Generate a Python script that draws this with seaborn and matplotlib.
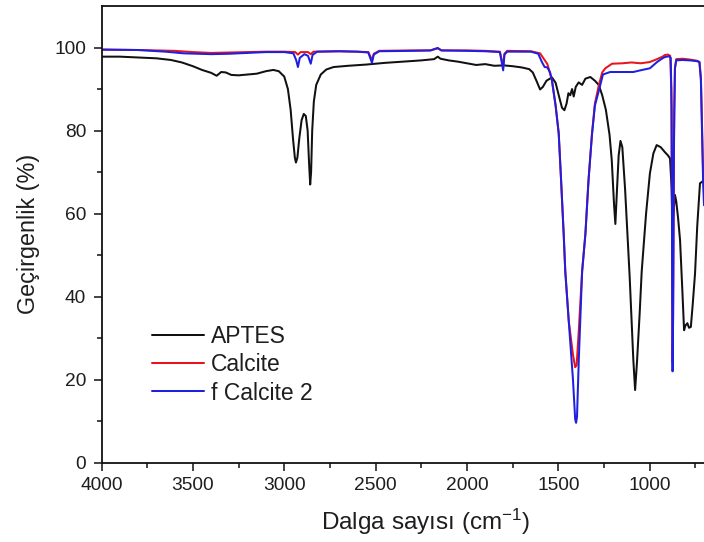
import numpy as np
import pandas as pd
import matplotlib
matplotlib.use("Agg")
import matplotlib.pyplot as plt
import seaborn as sns
from matplotlib.lines import Line2D

# ---- data ----
aptes_wn = [4000, 3900, 3800, 3700, 3620, 3560, 3500, 3450, 3400, 3370, 3345, 3320, 3290, 3250,
            3200, 3150, 3100, 3060, 3030, 3000, 2980, 2965, 2952, 2942, 2936, 2928, 2918, 2905,
            2893, 2882, 2872, 2864, 2858, 2853, 2847, 2838, 2825, 2800, 2770, 2730, 2650, 2550,
            2450, 2350, 2250, 2180, 2160, 2145, 2100, 2050, 2000, 1950, 1900, 1850, 1800, 1750,
            1700, 1660, 1640, 1620, 1600, 1585, 1565, 1535, 1515, 1495, 1480, 1467, 1455, 1445,
            1435, 1425, 1416, 1405, 1389, 1370, 1352, 1325, 1300, 1279, 1260, 1240, 1220, 1208,
            1195, 1188, 1180, 1170, 1160, 1150, 1135, 1110, 1090, 1080, 1070, 1055, 1044, 1020,
            999, 980, 962, 940, 917, 900, 889, 880, 876, 870, 862, 855, 845, 834, 822, 812, 805,
            794, 785, 775, 765, 752, 740, 725, 703]
aptes_t = [97.8, 97.8, 97.6, 97.4, 97.0, 96.4, 95.5, 94.6, 93.9, 93.2, 94.1, 94.0, 93.4, 93.3,
           93.5, 93.7, 94.3, 94.6, 94.3, 93.0, 90.0, 85.0, 78.0, 73.5, 72.3, 73.5, 78.0, 82.5,
           84.0, 83.5, 80.0, 72.0, 67.0, 70.0, 80.0, 87.0, 91.0, 93.5, 94.7, 95.3, 95.6, 95.9,
           96.3, 96.6, 96.9, 97.2, 97.8, 97.3, 96.9, 96.6, 96.2, 95.8, 96.0, 95.6, 95.7, 95.5,
           95.2, 94.8, 94.0, 92.0, 89.9, 90.5, 92.0, 92.8, 91.5, 88.0, 85.5, 84.9, 86.5, 89.0,
           88.5, 90.0, 88.2, 90.5, 91.6, 91.0, 92.5, 92.9, 92.0, 91.0, 88.5, 85.0, 79.0, 73.0,
           62.0, 57.5, 65.0, 74.0, 77.5, 76.0, 66.0, 45.0, 25.0, 17.5, 24.0, 36.0, 46.0, 60.0,
           69.7, 74.5, 76.5, 76.0, 74.8, 74.0, 73.3, 66.0, 58.0, 60.0, 64.5, 63.0, 59.0, 53.6,
           42.0, 31.9, 33.0, 33.6, 32.5, 32.7, 38.0, 45.6, 57.0, 67.3, 68.0]

calcite_wn = [4000, 3800, 3600, 3500, 3400, 3300, 3200, 3100, 3000, 2940, 2925, 2910, 2870, 2855,
              2840, 2700, 2600, 2540, 2520, 2510, 2480, 2300, 2200, 2160, 2140, 2000, 1900, 1820,
              1802, 1795, 1780, 1650, 1600, 1560, 1535, 1515, 1498, 1485, 1471, 1462, 1443, 1420,
              1408, 1400, 1388, 1370, 1352, 1335, 1316, 1300, 1279, 1260, 1243, 1206, 1150, 1100,
              1050, 1000, 960, 930, 917, 900, 888, 882, 878, 876, 874, 871, 866, 862, 855, 820,
              780, 740, 728, 720, 714, 708, 703]
calcite_t = [99.5, 99.4, 99.2, 98.9, 98.7, 98.8, 98.9, 99.0, 99.0, 98.9, 98.3, 98.9, 98.9, 98.4,
             99.0, 99.1, 99.0, 98.9, 97.0, 98.5, 99.2, 99.3, 99.3, 99.8, 99.3, 99.3, 99.2, 99.0,
             95.5, 98.5, 99.2, 99.1, 98.6, 96.0, 92.1, 86.0, 79.3, 68.0, 55.2, 46.0, 34.1, 26.0,
             23.0, 23.5, 32.0, 46.1, 55.2, 68.0, 79.3, 86.5, 90.8, 94.0, 95.0, 96.1, 96.2, 96.4,
             96.2, 96.5, 97.2, 97.8, 98.2, 98.3, 98.0, 90.0, 60.0, 25.0, 24.0, 45.0, 85.0, 95.0,
             97.2, 97.3, 97.1, 96.8, 96.5, 93.0, 82.0, 70.0, 65.0]

fcal_wn = [4000, 3800, 3650, 3550, 3400, 3300, 3200, 3100, 3000, 2950, 2935, 2925, 2915, 2890,
           2870, 2855, 2845, 2820, 2700, 2600, 2540, 2520, 2510, 2480, 2300, 2200, 2160, 2140,
           2000, 1900, 1820, 1802, 1795, 1780, 1650, 1610, 1590, 1575, 1560, 1545, 1535, 1515,
           1498, 1485, 1471, 1462, 1443, 1420, 1408, 1403, 1398, 1388, 1370, 1352, 1335, 1316,
           1300, 1279, 1256, 1217, 1126, 1090, 1052, 999, 960, 930, 917, 895, 885, 880, 877,
           875, 872, 868, 862, 855, 820, 780, 740, 728, 720, 714, 708, 703]
fcal_t = [99.5, 99.4, 99.0, 98.6, 98.4, 98.5, 98.7, 98.9, 98.9, 98.6, 97.0, 95.3, 97.5, 98.4,
          98.0, 96.1, 98.2, 99.0, 99.1, 99.0, 98.8, 96.3, 98.3, 99.1, 99.2, 99.3, 99.9, 99.3,
          99.2, 99.1, 98.9, 94.5, 98.3, 99.0, 99.0, 98.5, 96.5, 95.3, 95.2, 94.0, 92.0, 86.0,
          79.3, 68.0, 55.2, 46.0, 34.0, 20.0, 10.5, 9.6, 11.0, 25.0, 46.0, 55.0, 68.0, 79.0,
          86.0, 89.5, 93.5, 94.1, 94.1, 94.1, 94.5, 95.0, 96.5, 97.4, 97.7, 97.9, 97.5, 85.0,
          40.0, 22.0, 35.0, 75.0, 95.0, 96.9, 97.0, 96.9, 96.7, 96.5, 92.0, 80.0, 68.0, 62.0]

series_names = ["APTES", "Calcite", "f Calcite 2"]
series_colors = ["#111111", "#e8141c", "#1f1fe0"]

df = pd.concat([
    pd.DataFrame({"wn": aptes_wn, "T": aptes_t, "sample": series_names[0]}),
    pd.DataFrame({"wn": calcite_wn, "T": calcite_t, "sample": series_names[1]}),
    pd.DataFrame({"wn": fcal_wn, "T": fcal_t, "sample": series_names[2]}),
], ignore_index=True)

# ---- style ----
sns.set_theme(style="ticks")
plt.rcParams["font.family"] = ["Liberation Sans", "DejaVu Sans"]
plt.rcParams["mathtext.default"] = "regular"
text_col = "#1e1e1e"

fig = plt.figure(figsize=(7.04, 5.42), dpi=100)
ax = fig.add_axes([101.5 / 704, 79.3 / 542, 602.5 / 704, 456.7 / 542])

sns.lineplot(data=df, x="wn", y="T", hue="sample", hue_order=series_names,
             palette=dict(zip(series_names, series_colors)),
             sort=False, estimator=None, linewidth=1.45, ax=ax, legend=False)

ax.set_xlim(4000, 703)
ax.set_ylim(0, 110)
ax.set_xticks([4000, 3500, 3000, 2500, 2000, 1500, 1000])
ax.set_xticks(np.arange(3750, 700, -500), minor=True)
ax.set_yticks([0, 20, 40, 60, 80, 100])
ax.set_yticks([10, 30, 50, 70, 90], minor=True)

ax.tick_params(axis="both", which="major", direction="out", length=5.5, width=1.1,
               labelsize=13.8, labelcolor=text_col, color="#111111")
ax.tick_params(axis="y", which="major", pad=5.5)
ax.tick_params(axis="x", which="major", pad=4.5)
ax.tick_params(axis="both", which="minor", direction="out", length=3.3, width=1.1,
               color="#111111")

for s in ["left", "bottom", "top"]:
    ax.spines[s].set_linewidth(1.3)
    ax.spines[s].set_color("#111111")
ax.spines["right"].set_visible(False)

ax.set_xlabel("Dalga sayısı (cm$^{-1}$)", fontsize=17.5, color=text_col)
ax.set_ylabel("Geçirgenlik (%)", fontsize=16.8, color=text_col)
ax.xaxis.set_label_coords(0.5386, -0.096)
ax.yaxis.set_label_coords(-0.102, 0.5)

handles = [Line2D([0], [0], color=c, lw=1.45) for c in series_colors]
leg = ax.legend(handles, series_names, loc="center left", bbox_to_anchor=(0.084, 0.214),
                frameon=False, fontsize=16.5, handlelength=2.25, handletextpad=0.3,
                labelspacing=0.22, borderpad=0, borderaxespad=0)
for t in leg.get_texts():
    t.set_color(text_col)

fig.savefig("out.png", dpi=100)
